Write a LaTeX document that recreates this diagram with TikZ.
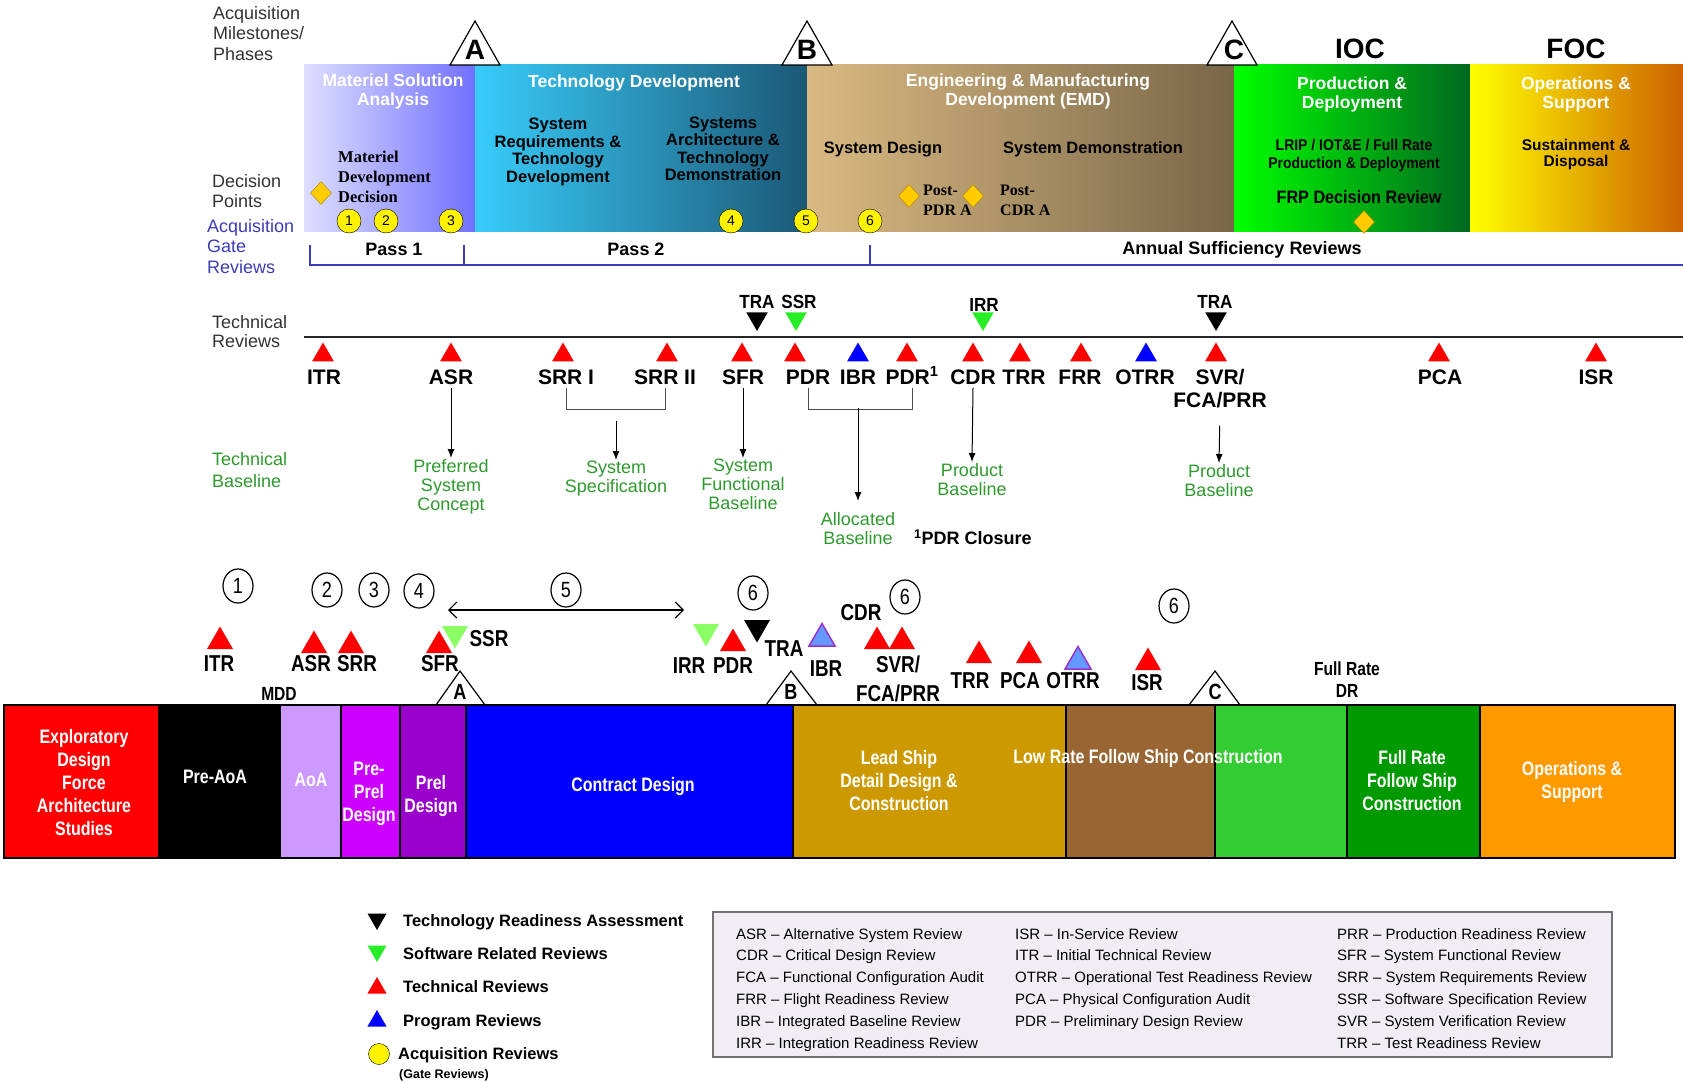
\documentclass[tikz,border=0pt]{standalone}
\usepackage{fontspec}
\setmainfont{Liberation Sans}
\newfontfamily\narrowfont[FakeStretch=0.82]{Liberation Sans}
\newfontfamily\condfont[FakeStretch=0.9]{Liberation Sans}
\newfontfamily\slabfont{Liberation Serif}
\usetikzlibrary{shapes.geometric,arrows.meta}

\definecolor{msaL}{RGB}{222,222,255}
\definecolor{msaR}{RGB}{112,112,255}
\definecolor{tdL}{RGB}{56,204,250}
\definecolor{tdM}{RGB}{40,150,200}
\definecolor{tdR}{RGB}{28,88,118}
\definecolor{emdL}{RGB}{218,186,130}
\definecolor{emdR}{RGB}{120,102,72}
\definecolor{pdL}{RGB}{0,255,0}
\definecolor{pdM}{RGB}{16,200,20}
\definecolor{pdR}{RGB}{0,104,32}
\definecolor{osL}{RGB}{255,255,0}
\definecolor{osM}{RGB}{255,226,0}
\definecolor{osR}{RGB}{206,98,0}
\definecolor{decfill}{RGB}{255,204,0}
\definecolor{decedge}{RGB}{176,128,0}
\definecolor{gateblue}{RGB}{60,60,185}
\definecolor{basegreen}{RGB}{46,154,46}
\definecolor{swgreen}{RGB}{40,238,40}
\definecolor{swlight}{RGB}{140,255,100}
\definecolor{ibrfill}{RGB}{102,153,255}
\definecolor{ibredge}{RGB}{153,51,204}
\definecolor{lavbox}{RGB}{204,153,255}
\definecolor{magbox}{RGB}{204,0,255}
\definecolor{purbox}{RGB}{153,0,204}
\definecolor{goldbox}{RGB}{204,153,0}
\definecolor{brownbox}{RGB}{153,102,51}
\definecolor{lgreenbox}{RGB}{51,204,51}
\definecolor{dgreenbox}{RGB}{0,153,0}
\definecolor{orangebox}{RGB}{255,153,0}
\definecolor{glossfill}{RGB}{240,238,242}

\tikzset{
  lab/.style={anchor=north west, align=left, inner sep=0pt, text=black!80, font=\fontsize{18}{20.5}\selectfont},
  ttl/.style={text=white, align=center, font=\bfseries\fontsize{17.5}{19}\selectfont},
  sub/.style={align=center, font=\bfseries\fontsize{16.5}{17.5}\selectfont},
  gate/.style={circle, draw=black, fill=yellow, inner sep=0pt, minimum size=24pt, font=\fontsize{14}{14}\selectfont},
  dec/.style={diamond, draw=decedge, fill=decfill, inner sep=0pt, minimum width=21pt, minimum height=23pt},
  rev/.style={anchor=base, font=\bfseries\fontsize{21}{23}\selectfont},
  uplab/.style={anchor=base, font=\condfont\bfseries\fontsize{19}{19}\selectfont},
  uptri/.style={regular polygon, regular polygon sides=3, inner sep=0pt, minimum size=25pt},
  dntri/.style={uptri, shape border rotate=180},
  bline/.style={anchor=north, align=center, text=basegreen, inner sep=1pt, font=\fontsize{18}{19}\selectfont},
  arr/.style={-{Latex[length=9pt,width=7pt]}, line width=1pt},
  brk/.style={line width=1pt, black!70},
  boxtxt/.style={text=white, align=center, font=\narrowfont\bfseries\fontsize{19.5}{23}\selectfont},
  ms/.style={line width=1.2pt},
  num/.style={ellipse, draw, line width=1.2pt, minimum width=30pt, minimum height=34pt, inner sep=0pt, font=\narrowfont\fontsize{22}{22}\selectfont},
  big/.style={regular polygon, regular polygon sides=3, inner sep=0pt, minimum size=30pt},
  bigdn/.style={big, shape border rotate=180},
  blab/.style={font=\narrowfont\bfseries\fontsize{23}{29}\selectfont},
  leg/.style={anchor=base west, inner sep=0pt, font=\bfseries\fontsize{16.5}{18}\selectfont},
  gloss/.style={anchor=north west, align=left, inner sep=0pt, font=\fontsize{15}{21.8}\selectfont}
}

\begin{document}
\begin{tikzpicture}[x=1pt,y=-1pt]
\useasboundingbox (0,0) rectangle (1683,1081);

% left hand labels
\node[lab] (mslab) at (213,6) {Acquisition\\Milestones/\\Phases};
\node[lab] (dplab) at (212,174) {Decision\\Points};
\node[lab, text=gateblue] (gatelab) at (207,219) {Acquisition\\Gate\\Reviews};
\node[lab, font=\fontsize{18}{19}\selectfont] (trlab) at (212,315) {Technical\\Reviews};
\node[lab, text=basegreen, font=\fontsize{18}{22}\selectfont] (tblab) at (212,452) {Technical\\Baseline};

% phases
\shade[left color=msaL, right color=msaR] (304,65) rectangle (475,231);
\shade[left color=tdL, middle color=tdM, right color=tdR] (475,65) rectangle (807,231);
\shade[left color=emdL, right color=emdR] (807,65) rectangle (1234,231);
\shade[left color=pdL, middle color=pdM, right color=pdR] (1234,65) rectangle (1470,231);
\shade[left color=osL, middle color=osM, right color=osR] (1470,65) rectangle (1683,231);

\draw[ms, fill=white] (450,65) -- (475,21) -- (500,65) -- cycle;
\draw[ms, fill=white] (782,65) -- (807,21) -- (832,65) -- cycle;
\draw[ms, fill=white] (1207,65) -- (1232,21) -- (1257,65) -- cycle;
\node[font=\bfseries\fontsize{28}{28}\selectfont] (mA) at (475,50) {A};
\node[font=\bfseries\fontsize{28}{28}\selectfont] (mB) at (807,50) {B};
\node[font=\bfseries\fontsize{28}{28}\selectfont] (mC) at (1234,50) {C};
\node[font=\bfseries\fontsize{28}{28}\selectfont] (ioc) at (1360,49) {IOC};
\node[font=\bfseries\fontsize{28}{28}\selectfont] (foc) at (1576,49) {FOC};

\node[ttl] (msa) at (393,91) {Materiel Solution\\Analysis};
\node[ttl] (td) at (634,83) {Technology Development};
\node[ttl] (emd) at (1028,91) {Engineering \& Manufacturing\\Development (EMD)};
\node[ttl] (pd) at (1352,94) {Production \&\\Deployment};
\node[ttl] (os) at (1576,94) {Operations \&\\Support};

\node[anchor=north west, align=left, inner sep=0pt, font=\slabfont\bfseries\fontsize{16.5}{20}\selectfont] (mddtxt) at (338,151) {Materiel\\Development\\Decision};
\node[sub] (srtd) at (558,152) {System\\Requirements \&\\Technology\\Development};
\node[sub] (satd) at (723,149) {Systems\\Architecture \&\\Technology\\Demonstration};
\node[sub] (sysdes) at (883,149) {System Design};
\node[sub] (sysdemo) at (1093,149) {System Demonstration};
\node[anchor=north west, align=left, inner sep=0pt, font=\slabfont\bfseries\fontsize{16}{20}\selectfont] (ppdr) at (923,185) {Post-\\PDR A};
\node[anchor=north west, align=left, inner sep=0pt, font=\slabfont\bfseries\fontsize{16}{20}\selectfont] (pcdr) at (1000,185) {Post-\\CDR A};
\node[align=center, font=\condfont\bfseries\fontsize{15.5}{18}\selectfont] (lrip) at (1354,155) {LRIP / IOT\&E / Full Rate\\Production \& Deployment};
\node[font=\condfont\bfseries\fontsize{18}{18}\selectfont] (frp) at (1359,197) {FRP Decision Review};
\node[align=center, font=\bfseries\fontsize{15.5}{16}\selectfont] (sust) at (1576,154) {Sustainment \&\\Disposal};

\node[dec] (dMDD) at (321,193) {};
\node[dec] (dPDR) at (909,196) {};
\node[dec] (dCDR) at (973,196) {};
\node[dec] (dFRP) at (1364,222) {};

\node[gate] (g1) at (349,221) {1};
\node[gate] (g2) at (386,221) {2};
\node[gate] (g3) at (451,221) {3};
\node[gate] (g4) at (731,221) {4};
\node[gate] (g5) at (806,221) {5};
\node[gate] (g6) at (870,221) {6};

% gate reviews
\draw[gateblue, line width=1.5pt] (310,245) -- (310,265) -- (1683,265);
\draw[gateblue, line width=1.5pt] (464,245) -- (464,265);
\draw[gateblue, line width=1.5pt] (870,245) -- (870,265);
\node[font=\bfseries\fontsize{18}{18}\selectfont] (pass1) at (394,249) {Pass 1};
\node[font=\bfseries\fontsize{18}{18}\selectfont] (pass2) at (636,249) {Pass 2};
\node[font=\bfseries\fontsize{18}{18}\selectfont] (asr) at (1242,250) {Annual Sufficiency Reviews};

% technical reviews
\draw[line width=1.5pt, black!85] (304,337) -- (1683,337);

\node[dntri, fill=black] (tTRA1) at (757,318.5) {};
\node[dntri, fill=swgreen] (tSSR) at (796,318.5) {};
\node[dntri, fill=swgreen] (tIRR) at (983,318.5) {};
\node[dntri, fill=black] (tTRA2) at (1216,318.5) {};
\node[uplab] (TRA1) at (757,308) {TRA};
\node[uplab] (SSR) at (799,308) {SSR};
\node[uplab] (IRR) at (984,311) {IRR};
\node[uplab] (TRA2) at (1215,308) {TRA};

\node[uptri, fill=red] (tITR) at (323,355) {};
\node[uptri, fill=red] (tASR) at (451,355) {};
\node[uptri, fill=red] (tSRRI) at (563,355) {};
\node[uptri, fill=red] (tSRRII) at (667,355) {};
\node[uptri, fill=red] (tSFR) at (742,355) {};
\node[uptri, fill=red] (tPDR) at (795,355) {};
\node[uptri, fill=blue] (tIBR) at (858,355) {};
\node[uptri, fill=red] (tPDRc) at (907,355) {};
\node[uptri, fill=red] (tCDR) at (973,355) {};
\node[uptri, fill=red] (tTRR) at (1020,355) {};
\node[uptri, fill=red] (tFRR) at (1081,355) {};
\node[uptri, fill=blue] (tOTRR) at (1146,355) {};
\node[uptri, fill=red] (tSVR) at (1216,355) {};
\node[uptri, fill=red] (tPCA) at (1439,355) {};
\node[uptri, fill=red] (tISR) at (1596,355) {};

\node[rev] (ITR) at (324,384) {ITR};
\node[rev] (ASR) at (451,384) {ASR};
\node[rev] (SRRI) at (566,384) {SRR I};
\node[rev] (SRRII) at (665,384) {SRR II};
\node[rev] (SFR) at (743,384) {SFR};
\node[rev] (PDR) at (808,384) {PDR};
\node[rev] (IBR) at (858,384) {IBR};
\node[rev] (PDRc) at (912,384) {PDR\textsuperscript{1}};
\node[rev] (CDR) at (973,384) {CDR};
\node[rev] (TRR) at (1024,384) {TRR};
\node[rev] (FRR) at (1080,384) {FRR};
\node[rev] (OTRR) at (1145,384) {OTRR};
\node[rev, anchor=north, align=center] (SVR) at (1220,366) {SVR/\\FCA/PRR};
\node[rev] (PCA) at (1440,384) {PCA};
\node[rev] (ISR) at (1596,384) {ISR};

% baselines
\node[bline] (psc) at (451,458) {Preferred\\System\\Concept};
\node[bline] (spec) at (616,460) {System\\Specification};
\node[bline] (sfb) at (743,458) {System\\Functional\\Baseline};
\node[bline] (alloc) at (858,511) {Allocated\\Baseline};
\node[bline] (prodA) at (972,462) {Product\\Baseline};
\node[bline] (prodB) at (1219,463) {Product\\Baseline};
\node[anchor=west, inner sep=0pt, font=\bfseries\fontsize{18}{18}\selectfont] (pdrnote) at (914,537) {\textsuperscript{1}PDR Closure};

\draw[arr] (ASR.south) -- (psc.north);
\draw[brk] (SRRI.south) -- ++(0,22) -| (SRRII.south);
\coordinate (srrmid) at (616,421);
\draw[arr] (srrmid) -- (spec.north);
\draw[arr] (SFR.south) -- (sfb.north);
\draw[brk] (PDR.south) -- ++(0,22) -| (PDRc.south);
\coordinate (pdrmid) at (858,408);
\draw[arr, shorten >=10pt] (pdrmid) -- (alloc.north);
\draw[arr] (CDR.south) -- (prodA.north);
\draw[arr, shorten <=14pt] (SVR.south) -- (prodB.north);

% ship program
\draw[line width=1.5pt, fill=red] (4,705) rectangle (159,858);
\draw[line width=1.5pt, fill=black] (159,705) rectangle (280,858);
\draw[line width=1.5pt, fill=lavbox] (280,705) rectangle (341,858);
\draw[line width=1.5pt, fill=magbox] (341,705) rectangle (400,858);
\draw[line width=1.5pt, fill=purbox] (400,705) rectangle (466,858);
\draw[line width=1.5pt, fill=blue] (466,705) rectangle (793,858);
\draw[line width=1.5pt, fill=goldbox] (793,705) rectangle (1066,858);
\draw[line width=1.5pt, fill=brownbox] (1066,705) rectangle (1215,858);
\draw[line width=1.5pt, fill=lgreenbox] (1215,705) rectangle (1347,858);
\draw[line width=1.5pt, fill=dgreenbox] (1347,705) rectangle (1480,858);
\draw[line width=1.5pt, fill=orangebox] (1480,705) rectangle (1675,858);

\node[boxtxt] (expl) at (84,783) {Exploratory\\Design\\Force\\Architecture\\Studies};
\node[boxtxt] (preaoa) at (215,777) {Pre-AoA};
\node[boxtxt] (aoa) at (311,780) {AoA};
\node[boxtxt] (preprel) at (369,794) {Pre-\\Prel\\Design};
\node[boxtxt] (prel) at (431,796) {Prel\\Design};
\node[boxtxt] (contract) at (633,786) {Contract Design};
\node[boxtxt] (leadship) at (899,781) {Lead Ship\\Detail Design \&\\Construction};
\node[boxtxt] (lowrate) at (1148,758) {Low Rate Follow Ship Construction};
\node[boxtxt] (fullrate) at (1412,781) {Full Rate\\Follow Ship\\Construction};
\node[boxtxt] (opsup) at (1572,782) {Operations \&\\Support};

\draw[ms] (436,705) -- (460,671) -- (485,705);
\draw[ms] (766,705) -- (791,671) -- (817,705);
\draw[ms] (1189,705) -- (1215,671) -- (1240,705);
\node[font=\narrowfont\bfseries\fontsize{22}{22}\selectfont] (bA) at (460,692) {A};
\node[font=\narrowfont\bfseries\fontsize{22}{22}\selectfont] (bB) at (791,692) {B};
\node[font=\narrowfont\bfseries\fontsize{22}{22}\selectfont] (bC) at (1215,692) {C};
\node[font=\narrowfont\bfseries\fontsize{19}{19}\selectfont] (mdd) at (279,694) {MDD};
\node[align=center, font=\narrowfont\bfseries\fontsize{19}{22}\selectfont] (frdr) at (1347,680) {Full Rate\\DR};

\node[num] (c1) at (238,586) {1};
\node[num] (c2) at (327,590) {2};
\node[num] (c3) at (374,590) {3};
\node[num] (c4) at (419,591) {4};
\node[num] (c5) at (566,590) {5};
\node[num] (c6a) at (753,593) {6};
\node[num] (c6b) at (905,597) {6};
\node[num] (c6c) at (1174,606) {6};
\coordinate (s5a) at (448,610);
\coordinate (s5b) at (684,610);
\draw[{Straight Barb[length=8pt,width=16pt]}-{Straight Barb[length=8pt,width=16pt]}, line width=1.2pt] (s5a) -- (s5b);

\node[big, fill=red] (bITR) at (220,641.5) {};
\node[big, fill=red] (bASR) at (314,645.5) {};
\node[big, fill=red] (bSRR) at (351,645.5) {};
\node[big, fill=red] (bSFR) at (439,645.5) {};
\node[bigdn, fill=swlight] (bSSR) at (455,633.5) {};
\node[bigdn, fill=swlight] (bIRR) at (706,631.5) {};
\node[big, fill=red] (bPDR) at (733,643.5) {};
\node[bigdn, fill=black] (bTRA) at (757,627.5) {};
\node[big, fill=ibrfill, draw=ibredge, line width=1.5pt] (bIBR) at (822,638.5) {};
\node[big, fill=red] (bCDR) at (877,641.5) {};
\node[big, fill=red] (bSVR) at (902,641.5) {};
\node[big, fill=red] (bTRR) at (979,655.5) {};
\node[big, fill=red] (bPCA) at (1029,655.5) {};
\node[big, fill=ibrfill, draw=ibredge, line width=1.5pt] (bOTRR) at (1078,661.5) {};
\node[big, fill=red] (bISR) at (1148,662.5) {};

\node[blab] (lITR) at (219,664) {ITR};
\node[blab] (lASR) at (311,664) {ASR};
\node[blab] (lSRR) at (357,664) {SRR};
\node[blab] (lSFR) at (440,664) {SFR};
\node[blab] (lSSR) at (489,639) {SSR};
\node[blab] (lIRR) at (689,666) {IRR};
\node[blab] (lPDR) at (733,666) {PDR};
\node[blab] (lTRA) at (784,649) {TRA};
\node[blab] (lIBR) at (826,669) {IBR};
\node[blab] (lCDR) at (861,613) {CDR};
\node[blab, align=center] (lSVR) at (898,679) {SVR/\\FCA/PRR};
\node[blab] (lTRR) at (970,681) {TRR};
\node[blab] (lPCA) at (1020,681) {PCA};
\node[blab] (lOTRR) at (1073,681) {OTRR};
\node[blab] (lISR) at (1147,683) {ISR};

% legend
\node[dntri, minimum size=22pt, fill=black] (kTRA) at (377,919) {};
\node[dntri, minimum size=22pt, fill=swgreen] (kSW) at (377,951) {};
\node[uptri, minimum size=22pt, fill=red] (kTR) at (377,988) {};
\node[uptri, minimum size=22pt, fill=blue] (kPR) at (377,1021) {};
\node[circle, draw=black, fill=yellow, minimum size=21pt, inner sep=0pt] (kAR) at (379,1054) {};
\node[leg] (tTRAk) at (403,926) {Technology Readiness Assessment};
\node[leg] (tSWk) at (403,959) {Software Related Reviews};
\node[leg] (tTRk) at (403,992) {Technical Reviews};
\node[leg] (tPRk) at (403,1026) {Program Reviews};
\node[leg] (tARk) at (398,1059) {Acquisition Reviews};
\node[leg, font=\bfseries\fontsize{12.5}{13}\selectfont] (tGRk) at (399,1078) {(Gate Reviews)};

\draw[fill=glossfill, draw=black!55, line width=1.2pt] (713,912) rectangle (1612,1057);
\node[gloss] (gl1) at (736,928) {ASR – Alternative System Review\\CDR – Critical Design Review\\FCA – Functional Configuration Audit\\FRR – Flight Readiness Review\\IBR – Integrated Baseline Review\\IRR – Integration Readiness Review};
\node[gloss] (gl2) at (1015,928) {ISR – In-Service Review\\ITR – Initial Technical Review\\OTRR – Operational Test Readiness Review\\PCA – Physical Configuration Audit\\PDR – Preliminary Design Review};
\node[gloss] (gl3) at (1337,928) {PRR – Production Readiness Review\\SFR – System Functional Review\\SRR – System Requirements Review\\SSR – Software Specification Review\\SVR – System Verification Review\\TRR – Test Readiness Review};
\end{tikzpicture}
\end{document}
